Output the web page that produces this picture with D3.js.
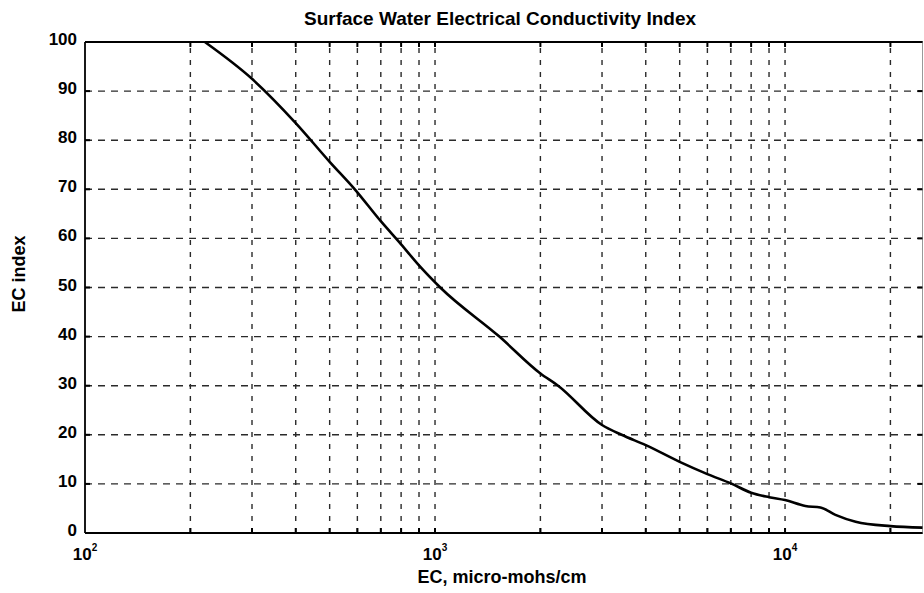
<!DOCTYPE html>
<html>
<head>
<meta charset="utf-8">
<script src="https://cdnjs.cloudflare.com/ajax/libs/d3/7.8.5/d3.min.js"></script>
<style>
  html, body { margin: 0; padding: 0; background: #fff; }
  svg { display: block; }
  text { font-family: "Liberation Sans", Arial, Helvetica, sans-serif; font-weight: bold; fill: #000; }
</style>
</head>
<body>
<svg id="chart" width="924" height="593"></svg>
<script>
// ---- Data ----
const ecValues = [220, 300, 400, 500, 590, 700, 800, 900, 1035, 1527, 2000, 2247, 3000, 3412, 4000, 5000, 6000, 7000, 8000, 9000, 10000, 11430, 12620, 13930, 15910, 20000, 24700];
const ecIndex  = [100, 92.5, 83.5, 75.6, 70, 63.5, 58.8, 54.5, 50, 40, 32.5, 30, 22, 20, 17.9, 14.5, 12.0, 10.1, 8.2, 7.3, 6.7, 5.5, 5.2, 3.7, 2.3, 1.4, 1.1];
const xMajorTicks = [100, 1000, 10000];
const xMajorExp = ["2", "3", "4"];
const xMinorTicks = [200, 300, 400, 500, 600, 700, 800, 900, 1000, 2000, 3000, 4000, 5000, 6000, 7000, 8000, 9000, 10000, 20000];
const yTicks = [0, 10, 20, 30, 40, 50, 60, 70, 80, 90, 100];
const titleText = "Surface Water Electrical Conductivity Index";
const xLabelText = "EC, micro-mohs/cm";
const yLabelText = "EC index";

// ---- Layout ----
const L = 85, R = 922.5, T = 42, B = 533;
const svg = d3.select("#chart");
const x = d3.scaleLog().domain([100, 24700]).range([L, R]);
const y = d3.scaleLinear().domain([0, 100]).range([B, T]);

// Grid lines
const grid = svg.append("g").attr("stroke", "#2a2a2a").attr("stroke-width", 1.4).attr("fill", "none");
grid.selectAll("line.v").data(xMinorTicks).enter().append("line")
  .attr("x1", d => x(d)).attr("x2", d => x(d)).attr("y1", B).attr("y2", T)
  .attr("stroke-dasharray", "5,7");
grid.selectAll("line.h").data(yTicks.filter(d => d > 0 && d < 100)).enter().append("line")
  .attr("x1", L).attr("x2", R).attr("y1", d => y(d)).attr("y2", d => y(d))
  .attr("stroke-dasharray", "7,6");

// Axes frame
const ax = svg.append("g").attr("stroke", "#000").attr("fill", "none");
ax.append("line").attr("x1", L).attr("x2", R).attr("y1", B).attr("y2", B).attr("stroke-width", 1.8);
ax.append("line").attr("x1", L).attr("x2", L).attr("y1", B).attr("y2", T).attr("stroke-width", 1.8);
ax.append("line").attr("x1", L).attr("x2", R).attr("y1", T).attr("y2", T).attr("stroke-width", 1.8);
ax.append("line").attr("x1", R).attr("x2", R).attr("y1", B).attr("y2", T).attr("stroke-width", 1).attr("stroke", "#999");

// Inward ticks
const tickG = svg.append("g").attr("stroke", "#000").attr("stroke-width", 2);
xMinorTicks.forEach(d => {
  tickG.append("line").attr("x1", x(d)).attr("x2", x(d)).attr("y1", B).attr("y2", B - 5);
  tickG.append("line").attr("x1", x(d)).attr("x2", x(d)).attr("y1", T).attr("y2", T + 5);
});
yTicks.forEach(d => {
  tickG.append("line").attr("x1", L).attr("x2", L + 5).attr("y1", y(d)).attr("y2", y(d));
  tickG.append("line").attr("x1", R).attr("x2", R - 5).attr("y1", y(d)).attr("y2", y(d));
});

// Y tick labels
svg.append("g").selectAll("text").data(yTicks).enter().append("text")
  .attr("x", L - 8).attr("y", d => y(d) + 3).attr("text-anchor", "end")
  .attr("font-size", 17).text(d => d);

// X tick labels (10^n)
const xl = svg.append("g");
xMajorTicks.forEach((d, i) => {
  const t = xl.append("text").attr("x", x(d)).attr("y", 560).attr("text-anchor", "middle").attr("font-size", 17);
  t.append("tspan").text("10");
  t.append("tspan").attr("font-size", 10).attr("dy", -9).text(xMajorExp[i]);
});

// Curve
const line = d3.line().x((d, i) => x(ecValues[i])).y(d => y(d)).curve(d3.curveMonotoneX);
svg.append("path").datum(ecIndex).attr("d", line)
  .attr("fill", "none").attr("stroke", "#000").attr("stroke-width", 2.6).attr("stroke-linejoin", "round");

// Title and axis labels
svg.append("text").attr("x", 500).attr("y", 25).attr("text-anchor", "middle").attr("font-size", 19).text(titleText);
svg.append("text").attr("x", 502).attr("y", 583).attr("text-anchor", "middle").attr("font-size", 18).text(xLabelText);
svg.append("text").attr("transform", "translate(25,274) rotate(-90)").attr("text-anchor", "middle").attr("font-size", 18).text(yLabelText);
</script>
</body>
</html>
